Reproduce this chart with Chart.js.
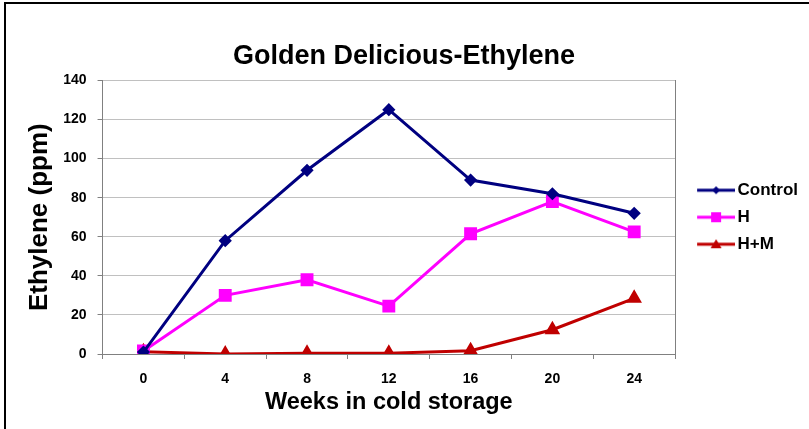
<!DOCTYPE html>
<html>
<head>
<meta charset="utf-8">
<title>Golden Delicious-Ethylene</title>
<script src="https://cdn.jsdelivr.net/npm/chart.js@4.4.1/dist/chart.umd.min.js"></script>
<style>
    html, body { margin: 0; padding: 0; background: #fff; }
    #wrap { position: relative; width: 809px; height: 429px; }
    #frame {
        position: absolute; left: 4px; top: 2px; right: 0; bottom: 0;
        border-top: 2px solid #000; border-left: 2px solid #000;
        pointer-events: none;
    }
</style>
</head>
<body>
<div id="wrap">
    <canvas id="ethyleneChart" width="809" height="429"></canvas>
    <div id="frame"></div>
</div>
<script>
// weeks in cold storage
const weeks = ['0', '4', '8', '12', '16', '20', '24'];
// ethylene (ppm)
const control = [1, 58, 94, 125, 89, 82, 72];
const treatH = [1.5, 30, 38, 24.5, 61.5, 78, 62.5];
const treatHM = [1.2, 0, 0.4, 0.4, 1.7, 12.4, 28.5];
const yTicks = [0, 20, 40, 60, 80, 100, 120, 140];

const FONT = "'Liberation Sans', Arial, sans-serif";

// little line + marker picture for the legend
function swatch(color, shape) {
    const c = document.createElement('canvas');
    c.width = 56;
    c.height = 16;
    const g = c.getContext('2d');
    g.strokeStyle = color;
    g.fillStyle = color;
    g.lineWidth = 3;
    g.beginPath();
    g.moveTo(18, 8);
    g.lineTo(56, 8);
    g.stroke();
    const x = 37, y = 8;
    g.beginPath();
    if (shape === 'diamond') {
        g.moveTo(x, y - 4); g.lineTo(x + 4, y); g.lineTo(x, y + 4); g.lineTo(x - 4, y);
    } else if (shape === 'square') {
        g.rect(x - 5, y - 5, 10, 10);
    } else {
        g.moveTo(x, y - 5); g.lineTo(x + 5.5, y + 4); g.lineTo(x - 5.5, y + 4);
    }
    g.closePath();
    g.fill();
    return c;
}

document.addEventListener('DOMContentLoaded', () => {
    const ctx = document.getElementById('ethyleneChart').getContext('2d');
    const swatches = [
        swatch('#000080', 'diamond'),
        swatch('#ff00ff', 'square'),
        swatch('#c00000', 'triangle')
    ];

    new Chart(ctx, {
        type: 'line',
        data: {
            labels: weeks,
            datasets: [
                {
                    label: 'Control',
                    data: control,
                    borderColor: '#000080',
                    backgroundColor: '#000080',
                    borderWidth: 3,
                    pointStyle: 'rectRot',
                    pointRadius: 4.5,
                    pointHoverRadius: 4.5,
                    tension: 0
                },
                {
                    label: 'H',
                    data: treatH,
                    borderColor: '#ff00ff',
                    backgroundColor: '#ff00ff',
                    borderWidth: 3,
                    pointStyle: 'rect',
                    pointRadius: 7,
                    pointHoverRadius: 7,
                    tension: 0
                },
                {
                    label: 'H+M',
                    data: treatHM,
                    borderColor: '#c00000',
                    backgroundColor: '#c00000',
                    borderWidth: 3,
                    pointStyle: 'triangle',
                    pointRadius: 6,
                    pointHoverRadius: 6,
                    tension: 0
                }
            ]
        },
        options: {
            responsive: false,
            animation: false,
            layout: {
                padding: { left: 0, right: 1, top: 0, bottom: 0 }
            },
            plugins: {
                title: {
                    display: true,
                    text: 'Golden Delicious-Ethylene',
                    color: '#000',
                    font: { family: FONT, size: 27, weight: 'bold' },
                    padding: { top: 40, bottom: 8 }
                },
                legend: {
                    position: 'right',
                    fullSize: false,
                    labels: {
                        usePointStyle: true,
                        pointStyleWidth: 44,
                        padding: 10,
                        color: '#000',
                        font: { family: FONT, size: 17, weight: 'bold' },
                        generateLabels: (chart) => chart.data.datasets.map((ds, i) => ({
                            text: ds.label,
                            pointStyle: swatches[i],
                            fillStyle: ds.borderColor,
                            strokeStyle: ds.borderColor,
                            lineWidth: 0,
                            fontColor: '#000',
                            hidden: false,
                            datasetIndex: i
                        }))
                    }
                },
                tooltip: { enabled: false }
            },
            scales: {
                x: {
                    offset: true,
                    grid: {
                        offset: true,
                        drawOnChartArea: false,
                        drawTicks: true,
                        tickLength: 5,
                        tickColor: '#808080'
                    },
                    border: { color: '#808080', width: 1 },
                    ticks: {
                        color: '#000',
                        padding: 12,
                        font: { family: FONT, size: 14, weight: 'bold' }
                    },
                    title: {
                        display: true,
                        text: 'Weeks in cold storage',
                        color: '#000',
                        font: { family: FONT, size: 23.5, weight: 'bold' },
                        padding: { top: -11, bottom: 12 }
                    }
                },
                y: {
                    min: 0,
                    max: 140,
                    afterBuildTicks: (scale) => {
                        scale.ticks = yTicks.map(v => ({ value: v }));
                    },
                    grid: {
                        color: '#c0c0c0',
                        tickColor: '#808080',
                        tickLength: 5
                    },
                    border: { color: '#808080', width: 1 },
                    ticks: {
                        color: '#000',
                        padding: 11,
                        font: { family: FONT, size: 14, weight: 'bold' }
                    },
                    title: {
                        display: true,
                        text: 'Ethylene (ppm)',
                        color: '#000',
                        font: { family: FONT, size: 26, weight: 'bold' },
                        padding: { top: 24, bottom: -3 }
                    }
                },
                yRight: {
                    position: 'right',
                    min: 0,
                    max: 140,
                    grid: { drawOnChartArea: false, drawTicks: false },
                    border: { color: '#808080', width: 1 },
                    ticks: { display: false }
                }
            }
        }
    });
});
</script>
</body>
</html>
